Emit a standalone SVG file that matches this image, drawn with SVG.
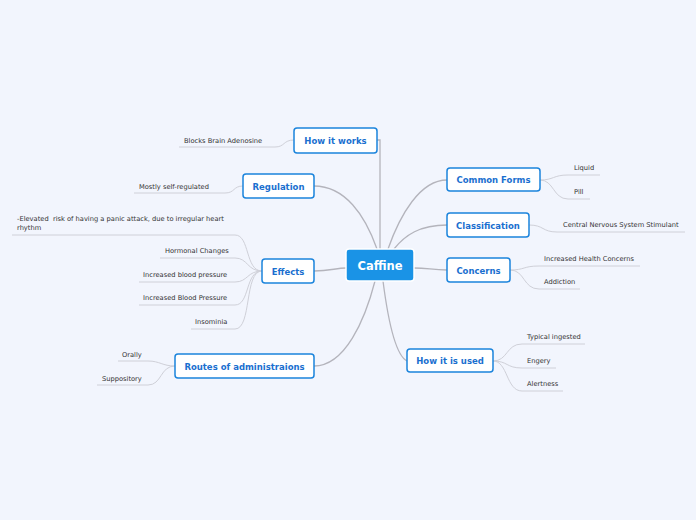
<svg xmlns="http://www.w3.org/2000/svg" width="696" height="520" viewBox="0 0 696 520">
<defs>
<style>
.main rect{fill:#ffffff;stroke:#1b84dc;stroke-width:1.5}
.main text{font-family:"DejaVu Sans",Verdana,sans-serif;font-weight:bold;font-size:8.5px;fill:#1a6fcf;text-anchor:middle}
.leaf text{font-family:"DejaVu Sans",Verdana,sans-serif;font-size:6.7px;fill:#333333;white-space:pre}
.conn path{fill:none;stroke:#b4b4bc;stroke-width:1.3}
.sub path{fill:none;stroke:#cfd0d8;stroke-width:1}
</style>
</defs>
<rect width="696" height="520" fill="#f2f5fd"/>
<g class="conn">
<path d="M377,140 L380,140 L380,249"/>
<path d="M314,186 C345,186 365,215 377,249"/>
<path d="M314,271 C330,271 336,268 346,268"/>
<path d="M314,366 C345,366 365,320 375,281"/>
<path d="M447,180 C420,180 400,215 388,249"/>
<path d="M447,225 C420,225 405,235 394,249"/>
<path d="M447,270 C432,270 428,268 414,268"/>
<path d="M407,361 C395,355 388,320 383,281"/>
</g>
<g class="sub">
<path d="M179,147 L275,147 C285,147 283,140 294,140"/>
<path d="M134,193 L225,193 C235,193 233,186 243,186"/>
<path d="M12,235 L235,235 C250,235 245,271 262,271"/>
<path d="M160,258 L235,258 C248,258 247,271 262,271"/>
<path d="M139,282 L235,282 C248,282 247,271 262,271"/>
<path d="M139,305 L235,305 C250,305 245,271 262,271"/>
<path d="M191,329 L235,329 C252,329 244,271 262,271"/>
<path d="M118,361 L148,361 C160,361 162,366 175,366"/>
<path d="M97,385 L148,385 C162,385 160,366 175,366"/>
<path d="M540,180 C554,180 553,175 568,175 L600,175"/>
<path d="M540,180 C554,180 553,199 568,199 L590,199"/>
<path d="M529,225 C544,225 542,232 557,232 L685,232"/>
<path d="M510,270 C525,270 523,266 539,266 L640,266"/>
<path d="M510,270 C525,270 523,289 539,289 L580,289"/>
<path d="M493,361 C508,361 506,344 522,344 L585,344"/>
<path d="M493,361 C508,361 506,368 522,368 L556,368"/>
<path d="M493,361 C508,361 506,391 522,391 L563,391"/>
</g>
<g id="center">
<rect x="346" y="249" width="68" height="32" rx="3" fill="#1a93e6" stroke="#ffffff" stroke-width="1.5"/>
<text x="380" y="269.5" font-family="DejaVu Sans,Verdana,sans-serif" font-weight="bold" font-size="11.5" fill="#ffffff" text-anchor="middle">Caffine</text>
</g>
<g id="how-it-works" class="main"><rect x="294" y="128" width="83" height="25" rx="3"/><text x="335.5" y="144">How it works</text></g>
<g id="regulation" class="main"><rect x="243" y="174" width="71" height="24" rx="3"/><text x="278.5" y="189.5">Regulation</text></g>
<g id="effects" class="main"><rect x="262" y="259" width="52" height="24" rx="3"/><text x="288" y="274.5">Effects</text></g>
<g id="routes" class="main"><rect x="175" y="354" width="139" height="24" rx="3"/><text x="244.5" y="369.5">Routes of administraions</text></g>
<g id="common-forms" class="main"><rect x="447" y="168" width="93" height="23" rx="3"/><text x="493.5" y="183">Common Forms</text></g>
<g id="classification" class="main"><rect x="447" y="213" width="82" height="24" rx="3"/><text x="488" y="228.5">Classification</text></g>
<g id="concerns" class="main"><rect x="447" y="258" width="63" height="24" rx="3"/><text x="478.5" y="273.5">Concerns</text></g>
<g id="how-it-is-used" class="main"><rect x="407" y="349" width="86" height="23" rx="3"/><text x="450" y="364">How it is used</text></g>
<g id="leaf-blocks" class="leaf"><text x="184" y="143">Blocks Brain Adenosine</text></g>
<g id="leaf-mostly" class="leaf"><text x="139" y="189">Mostly self-regulated</text></g>
<g id="leaf-elevated" class="leaf"><text x="17" y="221">-Elevated  risk of having a panic attack, due to irregular heart</text><text x="17" y="230">rhythm</text></g>
<g id="leaf-hormonal" class="leaf"><text x="165" y="253">Hormonal Changes</text></g>
<g id="leaf-ibp1" class="leaf"><text x="143" y="277">Increased blood pressure</text></g>
<g id="leaf-ibp2" class="leaf"><text x="143" y="300">Increased Blood Pressure</text></g>
<g id="leaf-insomnia" class="leaf"><text x="195" y="324">Insominia</text></g>
<g id="leaf-orally" class="leaf"><text x="122" y="357">Orally</text></g>
<g id="leaf-suppository" class="leaf"><text x="102" y="381">Suppository</text></g>
<g id="leaf-liquid" class="leaf"><text x="574" y="170">Liquid</text></g>
<g id="leaf-pill" class="leaf"><text x="574" y="194">Pill</text></g>
<g id="leaf-cns" class="leaf"><text x="563" y="227">Central Nervous System Stimulant</text></g>
<g id="leaf-ihc" class="leaf"><text x="544" y="261">Increased Health Concerns</text></g>
<g id="leaf-addiction" class="leaf"><text x="544" y="284">Addiction</text></g>
<g id="leaf-typical" class="leaf"><text x="527" y="339">Typical ingested</text></g>
<g id="leaf-engery" class="leaf"><text x="527" y="363">Engery</text></g>
<g id="leaf-alertness" class="leaf"><text x="527" y="386">Alertness</text></g>
</svg>
